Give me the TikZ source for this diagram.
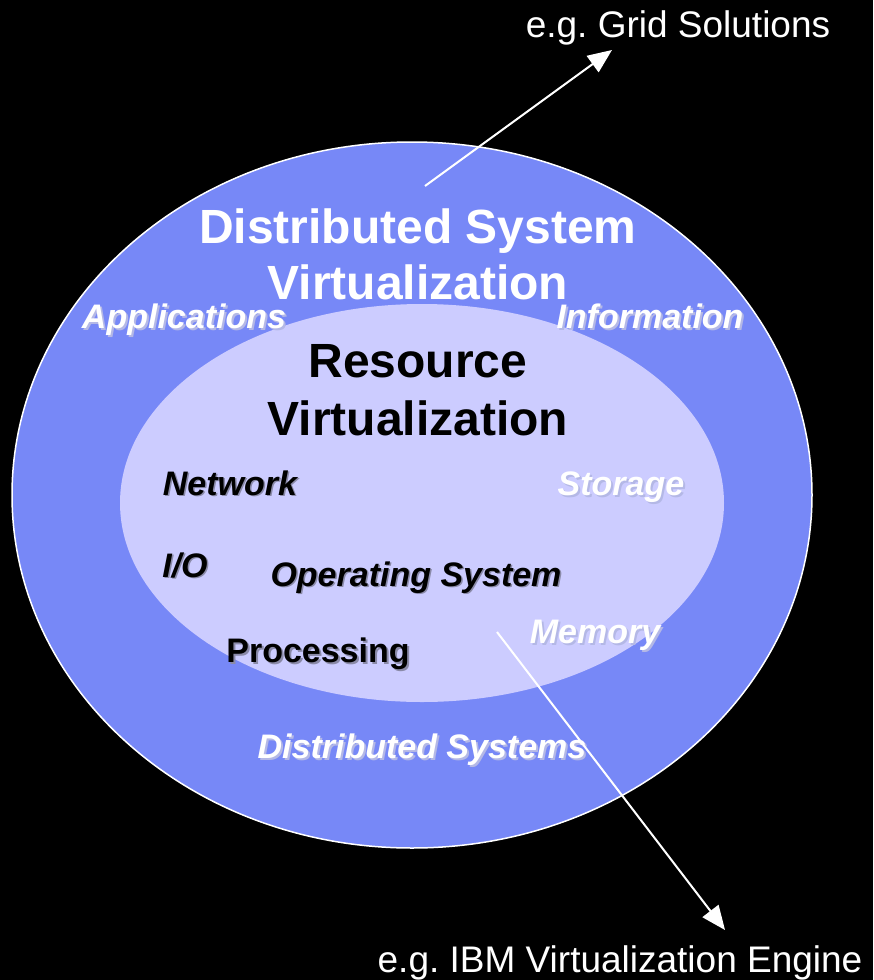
\documentclass[tikz,border=0pt]{standalone}
\usepackage{fontspec}
\setmainfont{Liberation Sans}
\usetikzlibrary{arrows.meta}
\frenchspacing
\definecolor{outerblue}{HTML}{7788F7}
\definecolor{innerlav}{HTML}{CCCCFF}
\definecolor{wshadow}{HTML}{B4B8E6}
\definecolor{bshadow}{HTML}{8A8AA8}
\newcommand{\shadowed}[3]{% shadow colour, offset, text
  \makebox[0pt][l]{\hspace{#2}\raisebox{-#2}{\textcolor{#1}{#3}}}#3}
\tikzset{
  big/.style={font=\fontsize{48}{56}\selectfont\bfseries, anchor=base, inner sep=0pt},
  lbl/.style={font=\fontsize{34}{40}\selectfont\bfseries\itshape, anchor=base, inner sep=0pt},
  lblup/.style={font=\fontsize{34}{40}\selectfont\bfseries, anchor=base, inner sep=0pt},
  eg/.style={font=\fontsize{37}{44}\selectfont, anchor=base, inner sep=0pt, text=white},
  arr/.style={draw=white, line width=2pt, -{Triangle[length=24pt,width=20pt]}},
}
\begin{document}
\begin{tikzpicture}[x=1pt,y=-1pt]
\useasboundingbox (0,0) rectangle (873,980);
\fill[black] (0,0) rectangle (873,980);
% ellipses
\path[fill=outerblue, draw=white, line width=1.5pt] (412,495) ellipse [x radius=400, y radius=353];
\path[fill=innerlav] (422,503) ellipse [x radius=302, y radius=199];
% headings
\node[big, text=white] (ds1) at (418,243) {Distributed System};
\node[big, text=white] (ds2) at (418,299) {Virtualization};
\node[big, text=black] (rv1) at (418,377) {Resource};
\node[big, text=black] (rv2) at (418,435) {Virtualization};
% white labels with shadow
\node[lbl, text=white] (app) at (184,328) {\shadowed{wshadow}{2pt}{Applications}};
\node[lbl, text=white] (inf) at (650,328) {\shadowed{wshadow}{2pt}{Information}};
\node[lbl, text=white] (sto) at (621,495) {\shadowed{wshadow}{2pt}{Storage}};
\node[lbl, text=white] (mem) at (595,643) {\shadowed{wshadow}{2pt}{Memory}};
\node[lbl, text=white] (dss) at (422,758) {\shadowed{wshadow}{2pt}{Distributed Systems}};
% black labels with shadow
\node[lbl, text=black] (net) at (230,495) {\shadowed{bshadow}{1.5pt}{Network}};
\node[lbl, text=black] (io) at (185,577) {\shadowed{bshadow}{1.5pt}{I/O}};
\node[lbl, text=black] (os) at (416,586) {\shadowed{bshadow}{1.5pt}{Operating System}};
\node[lblup, text=black] (proc) at (318,662) {\shadowed{bshadow}{2pt}{Processing}};
% example labels
\node[eg] (grid) at (678,37) {e.g. Grid Solutions};
\node[eg] (ibm) at (620,972) {e.g. IBM Virtualization Engine};
% arrows
\coordinate (a1s) at (425,186);
\coordinate (a1e) at (612,50);
\coordinate (a2s) at (497,632);
\coordinate (a2e) at (725,930);
\draw[arr] (a1s) -- (a1e);
\draw[arr] (a2s) -- (a2e);
\end{tikzpicture}
\end{document}
